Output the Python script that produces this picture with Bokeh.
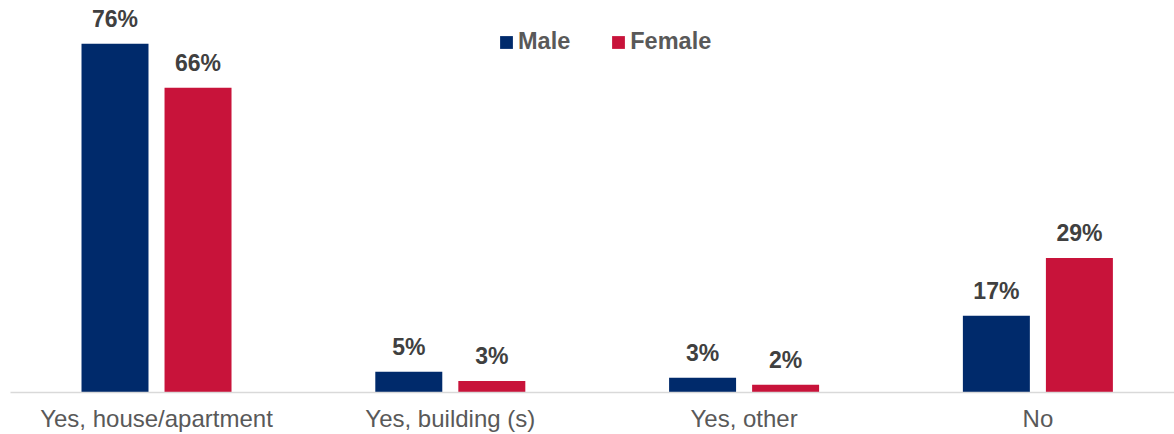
from bokeh.plotting import figure
from bokeh.models import ColumnDataSource, FixedTicker, Range1d, Legend, LegendItem
from bokeh.transform import dodge
from bokeh.core.properties import value
from bokeh.embed import file_html
from bokeh.resources import INLINE

categories = ["Yes, house/apartment", "Yes, building (s)", "Yes, other", "No"]
male = [76.0, 4.5, 3.2, 16.7]
female = [66.4, 2.5, 1.7, 29.3]
male_labels = ["76%", "5%", "3%", "17%"]
female_labels = ["66%", "3%", "2%", "29%"]

MALE_C = "#002A6B"
FEMALE_C = "#C8133A"
FONT = "Liberation Sans"

src = ColumnDataSource(dict(
    idx=list(range(len(categories))),
    male=male, female=female,
    male_lab=male_labels, female_lab=female_labels,
))

p = figure(width=1174, height=434, output_backend="svg", toolbar_location=None,
           x_range=Range1d(-0.497, 3.465), y_range=Range1d(0, 85.4),
           y_axis_location=None, min_border_left=10, min_border_right=0,
           min_border_top=0, outline_line_color=None)
p.xgrid.visible = False
p.ygrid.visible = False

off = 0.1413
bw = 0.228
rm = p.vbar(x=dodge("idx", -off, range=p.x_range), top="male", bottom=0, width=bw,
            source=src, fill_color=MALE_C, line_color=None)
rf = p.vbar(x=dodge("idx", off, range=p.x_range), top="female", bottom=0, width=bw,
            source=src, fill_color=FEMALE_C, line_color=None)

for col, lab, o in (("male", "male_lab", -off), ("female", "female_lab", off)):
    p.text(x=dodge("idx", o, range=p.x_range), y=col, text=lab, source=src,
           y_offset=-25, text_align="center", text_baseline="alphabetic",
           text_font=value(FONT), text_font_style="bold", text_font_size="23px",
           text_color="#404040")

ax = p.xaxis[0]
ax.ticker = FixedTicker(ticks=list(range(len(categories))))
ax.major_label_overrides = {i: c for i, c in enumerate(categories)}
ax.major_tick_line_color = None
ax.minor_tick_line_color = None
ax.major_tick_out = 0
ax.major_label_standoff = 12
ax.axis_line_color = "#D9D9D9"
ax.axis_line_width = 1.5
ax.major_label_text_font = FONT
ax.major_label_text_font_size = "24px"
ax.major_label_text_color = "#595959"

legend = Legend(items=[LegendItem(label="Male", renderers=[rm]),
                       LegendItem(label="Female", renderers=[rf])],
                orientation="horizontal", location=(488, 337),
                glyph_width=16, glyph_height=16, label_standoff=4, spacing=40,
                padding=0, margin=0, border_line_color=None,
                background_fill_alpha=0,
                label_text_font=FONT, label_text_font_style="bold",
                label_text_font_size="23.5px", label_text_color="#595959")
p.add_layout(legend, "center")

open("out.html", "w").write(file_html(p, INLINE))
